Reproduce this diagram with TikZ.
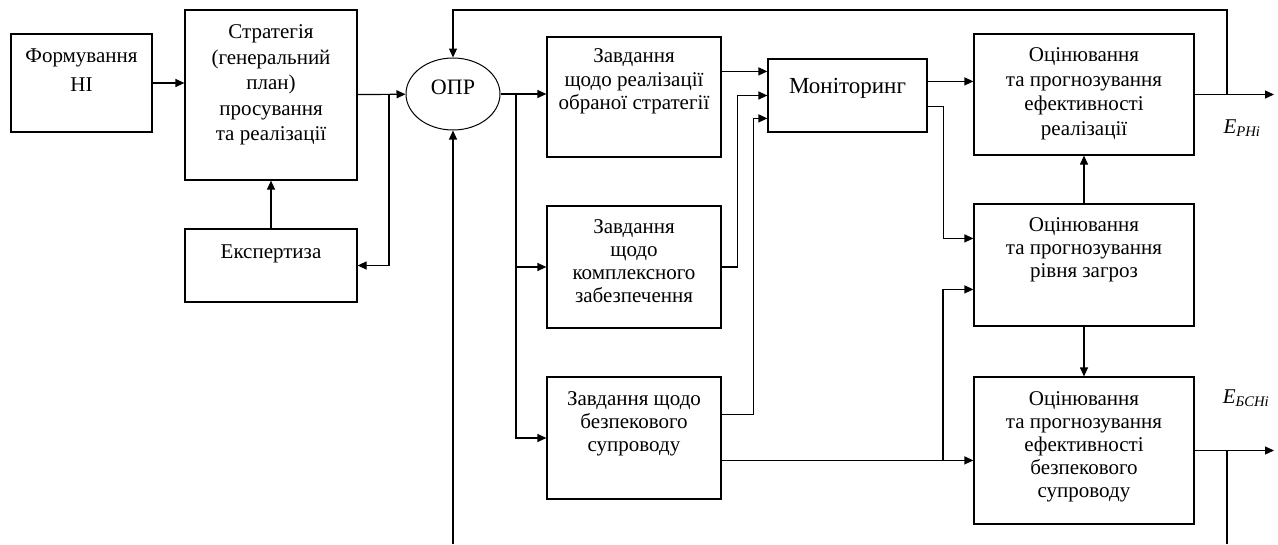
\documentclass[tikz,border=0pt]{standalone}
\usepackage{fontspec}
\setmainfont{Liberation Serif}
\usetikzlibrary{shapes.geometric,arrows.meta}

\begin{document}
\begin{tikzpicture}[x=1pt, y=-1pt,
    blok/.style={draw, line width=1.2pt, inner sep=0pt},
    tekst/.style={anchor=north, align=center, inner sep=0pt, font=\fontsize{21}{24}\selectfont},
    strilka/.style={line width=1.2pt, -{Triangle[length=9pt,width=8pt]}},
    liniya/.style={line width=1.2pt}]
    \useasboundingbox (0,0) rectangle (1278,544);

    % блоки
    \node[blok, minimum width=141pt, minimum height=98pt] (fni) at (81.5,83) {};
    \node[blok, minimum width=172pt, minimum height=170pt] (str) at (271,95) {};
    \node[blok, minimum width=172pt, minimum height=73pt] (eksp) at (271,265.5) {};
    \node[draw, ellipse, line width=1pt, minimum width=94pt, minimum height=72pt, inner sep=0pt,
          text depth=14pt, font=\fontsize{22}{22}\selectfont] (opr) at (453,94) {ОПР};
    \node[blok, minimum width=174pt, minimum height=120pt] (z1) at (634,97) {};
    \node[blok, minimum width=174pt, minimum height=122pt] (z2) at (634,267) {};
    \node[blok, minimum width=174pt, minimum height=122pt] (z3) at (634,438) {};
    \node[blok, minimum width=159pt, minimum height=73pt] (mon) at (847.5,95.5) {};
    \node[blok, minimum width=220pt, minimum height=121pt] (o1) at (1084,94.5) {};
    \node[blok, minimum width=220pt, minimum height=122pt] (o2) at (1084,265) {};
    \node[blok, minimum width=220pt, minimum height=147pt] (o3) at (1084,450.5) {};

    % тексти
    \node[tekst, yshift=-15pt, font=\fontsize{21}{29}\selectfont] (fni-t) at (fni.north) {Формування\\НІ};
    \node[tekst, yshift=-15pt, font=\fontsize{21}{25.5}\selectfont] (str-t) at (str.north)
        {Стратегія\\(генеральний\\план)\\просування\\та реалізації};
    \node[tekst, yshift=-16pt] (eksp-t) at (eksp.north) {Експертиза};
    \node[tekst, yshift=-12pt, font=\fontsize{21}{23.5}\selectfont] (z1-t) at (z1.north)
        {Завдання\\щодо реалізації\\обраної стратегії};
    \node[tekst, yshift=-14pt, font=\fontsize{21}{23}\selectfont] (z2-t) at (z2.north)
        {Завдання\\щодо\\комплексного\\забезпечення};
    \node[tekst, yshift=-15pt, font=\fontsize{21}{23}\selectfont] (z3-t) at (z3.north)
        {Завдання щодо\\безпекового\\супроводу};
    \node[tekst, yshift=-20pt, font=\fontsize{23}{26}\selectfont] (mon-t) at (mon.north) {Моніторинг};
    \node[tekst, yshift=-14pt, font=\fontsize{21}{24.5}\selectfont] (o1-t) at (o1.north)
        {Оцінювання\\та прогнозування\\ефективності\\реалізації};
    \node[tekst, yshift=-13.5pt, font=\fontsize{21}{23}\selectfont] (o2-t) at (o2.north)
        {Оцінювання\\та прогнозування\\рівня загроз};
    \node[tekst, yshift=-15pt, font=\fontsize{21}{23}\selectfont] (o3-t) at (o3.north)
        {Оцінювання\\та прогнозування\\ефективності\\безпекового\\супроводу};

    % виходи
    \node[font=\fontsize{21}{21}\selectfont\itshape] (erh) at (1242,128) {E\textsubscript{РНі}};
    \node[font=\fontsize{21}{21}\selectfont\itshape] (ebsh) at (1246,398) {E\textsubscript{БСНі}};

    % точки розгалуження
    \coordinate (s1) at (389,95);
    \coordinate (r1) at (516,94);
    \coordinate (r3) at (943,461);
    \coordinate (v1) at (1227,94.5);
    \coordinate (verh) at (1227,10);
    \coordinate (vyh1) at (1274,94.5);
    \coordinate (v2) at (1227,450.5);
    \coordinate (vyh2) at (1274,450.5);
    \coordinate (niz1) at (453,544);
    \coordinate (niz2) at (1227,544);

    % зв'язки
    \draw[strilka] (fni.east) -- (fni.east -| str.west);
    \draw[strilka] (eksp) -- (str);
    \draw[strilka] (str) -- (opr);
    \draw[strilka] (s1) |- (eksp);
    \draw[strilka] (opr.east) -- (opr.east -| z1.west);
    \draw[strilka] (r1) |- (z2);
    \draw[strilka] (r1) |- (z3);
    \draw[strilka] ([yshift=-35pt]z1.north east) -- ([yshift=-35pt]z1.north east -| mon.west);
    \draw[strilka] (z2.east) -- ++(16,0) |- (mon);
    \draw[strilka] ([yshift=-38pt]z3.north east) -- ++(32,0) |- ([yshift=-60pt]mon.north west);
    \draw[strilka] ([yshift=-23pt]mon.north east) -- ([yshift=-23pt]mon.north east -| o1.west);
    \draw[strilka] ([yshift=-48pt]mon.north east) -- ++(16,0) |- ([yshift=-35pt]o2.north west);
    \draw[strilka] ([yshift=-84pt]z3.north east) -- ([yshift=-84pt]o3.north west);
    \draw[strilka] (r3) |- ([yshift=-86pt]o2.north west);
    \draw[strilka] (o2) -- (o1);
    \draw[strilka] (o2) -- (o3);
    \draw[strilka] (o1) -- (vyh1);
    \draw[strilka] (o3) -- (vyh2);
    \draw[strilka] (v1) -- (verh) -| (opr);
    \draw[strilka] (niz1) -- (opr);
    \draw[liniya] (v2) -- (niz2);
\end{tikzpicture}
\end{document}
